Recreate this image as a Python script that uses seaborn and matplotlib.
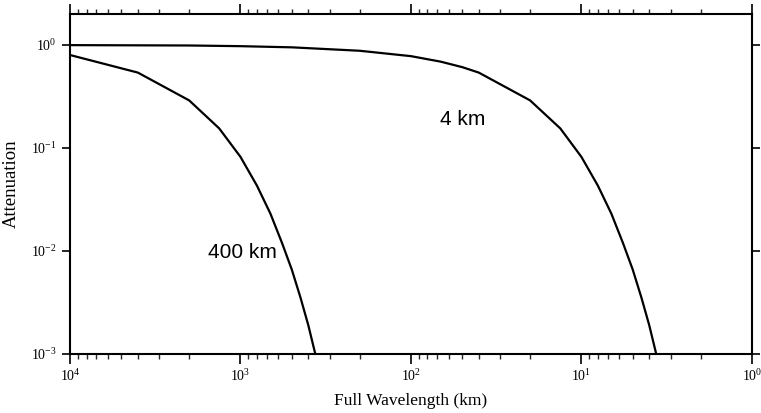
import numpy as np
import pandas as pd
import matplotlib
matplotlib.use('Agg')
import matplotlib.pyplot as plt
import matplotlib.ticker as mticker
import seaborn as sns

# curves (full wavelength in km, attenuation)
wavelength_400km = [10000, 4000, 2000, 1333, 1000, 800, 667, 571, 500, 444, 400, 364]
atten_400km = [0.80, 0.54, 0.29, 0.155, 0.082, 0.043, 0.023, 0.012, 0.0066, 0.0035, 0.0019, 0.001]

wavelength_4km = [10000, 2000, 1000, 500, 200, 100, 67, 50, 40, 20, 13.3, 10, 8,
                  6.67, 5.71, 5, 4.44, 4, 3.64]
atten_4km = [0.998, 0.99, 0.975, 0.95, 0.88, 0.78, 0.69, 0.61, 0.54, 0.29, 0.155, 0.082,
             0.043, 0.023, 0.012, 0.0066, 0.0035, 0.0019, 0.001]

curve_labels = ['400 km', '4 km']
label_pos = [(980, 0.0096), (49.5, 0.19)]

df = pd.concat([
    pd.DataFrame({'wavelength': wavelength_400km, 'attenuation': atten_400km, 'depth': curve_labels[0]}),
    pd.DataFrame({'wavelength': wavelength_4km, 'attenuation': atten_4km, 'depth': curve_labels[1]}),
])

sns.set_style('ticks')
plt.rcParams['font.family'] = ['Liberation Serif', 'DejaVu Serif']
plt.rcParams['mathtext.fontset'] = 'stix'
plt.rcParams['text.color'] = 'black'
plt.rcParams['axes.labelcolor'] = 'black'

fig = plt.figure(figsize=(7.61, 4.13), dpi=100)
ax = fig.add_axes([0.092, 0.143, 0.896, 0.823])

sns.lineplot(data=df, x='wavelength', y='attenuation', hue='depth',
             palette=['black', 'black'], estimator=None, sort=False,
             linewidth=1.6, legend=False, ax=ax)

ax.set_xscale('log')
ax.set_yscale('log')
ax.set_xlim(1e4, 1)
ax.set_ylim(1e-3, 2)

ax.xaxis.set_major_locator(mticker.LogLocator(base=10, numticks=10))
ax.xaxis.set_minor_locator(mticker.LogLocator(base=10, subs=np.arange(2, 10), numticks=20))
ax.yaxis.set_major_locator(mticker.FixedLocator([1e-3, 1e-2, 1e-1, 1]))
ax.yaxis.set_minor_locator(mticker.NullLocator())

ax.tick_params(axis='both', which='major', direction='out', length=7, width=1.2,
               labelsize=10, top=True, right=True, colors='black')
ax.tick_params(axis='x', which='minor', direction='out', length=3.5, width=1.0,
               top=True, bottom=True)
ax.tick_params(axis='y', which='major', length=6)

for s in ax.spines.values():
    s.set_linewidth(1.5)
    s.set_color('black')

ax.set_xlabel('Full Wavelength (km)', fontsize=12.5, labelpad=6)
ax.set_ylabel('Attenuation', fontsize=13.5, labelpad=8)

for txt, (lx, ly) in zip(curve_labels, label_pos):
    ax.text(lx, ly, txt, ha='center', va='center', fontsize=15, color='black',
            family=['Liberation Sans', 'DejaVu Sans'])

fig.savefig('out.png', dpi=100)
